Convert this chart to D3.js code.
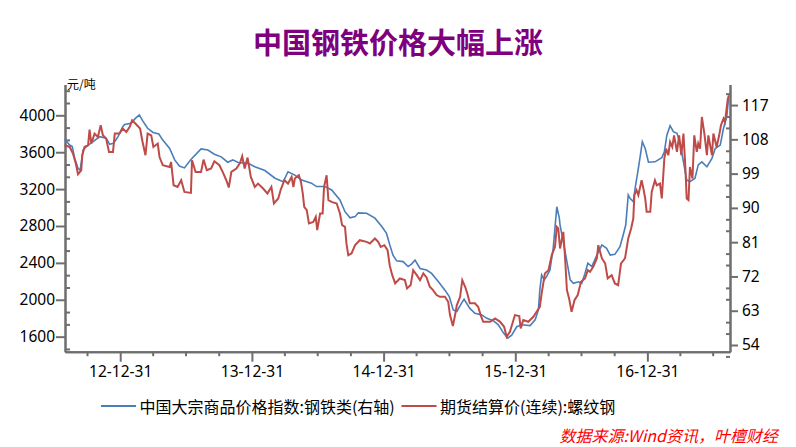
<!DOCTYPE html>
<html lang="zh">
<head>
  <meta charset="UTF-8">
  <title>中国钢铁价格大幅上涨</title>
  <style>
    body { margin: 0; background: #fff; }
    svg { display: block; }
    .eixo text { font-family: "Noto Sans", "Open Sans", sans-serif; font-size: 15.5px; fill: #000; }
    .eixo path, .eixo line { stroke: #6e6e6e; stroke-width: 2; }
  </style>
</head>
<body>
  <svg id="grafico" width="796" height="447"></svg>

  <script src="https://d3js.org/d3.v7.min.js"></script>
  <script>
    // Eixos: rótulos dos ticks
    const leftTicks = [1600, 2000, 2400, 2800, 3200, 3600, 4000];
    const rightTicks = [54, 63, 72, 81, 90, 99, 108, 117];
    const yearTicks = ["2012-12-31", "2013-12-31", "2014-12-31", "2015-12-31", "2016-12-31"];

    const seriesNames = ["中国大宗商品价格指数:钢铁类(右轴)", "期货结算价(连续):螺纹钢"];

    // 中国大宗商品价格指数:钢铁类 (eixo direito)
    const steelIndex = [
      ["2012-07-30",108.0],["2012-08-13",106.5],["2012-08-20",106.1],["2012-08-27",103.0],["2012-09-05",100.4],
      ["2012-09-11",99.9],["2012-09-19",105.2],["2012-09-28",106.1],["2012-10-17",107.4],["2012-11-04",108.7],
      ["2012-11-22",108.3],["2012-12-02",106.7],["2012-12-13",107.0],["2012-12-25",108.7],["2013-01-07",111.3],
      ["2013-01-12",111.9],["2013-01-30",112.2],["2013-02-11",113.5],["2013-02-22",114.4],["2013-03-03",112.9],
      ["2013-03-17",110.9],["2013-04-01",109.8],["2013-04-17",109.4],["2013-04-28",107.8],["2013-05-17",105.6],
      ["2013-05-31",102.6],["2013-06-13",101.0],["2013-06-27",100.5],["2013-07-15",102.7],["2013-08-12",105.5],
      ["2013-08-31",105.2],["2013-09-18",104.1],["2013-10-07",103.4],["2013-10-25",102.0],["2013-11-08",102.6],
      ["2013-11-23",101.9],["2013-12-21",101.7],["2014-01-08",100.8],["2014-02-05",99.8],["2014-03-05",97.8],
      ["2014-03-28",96.9],["2014-04-10",99.5],["2014-04-29",98.6],["2014-05-18",97.3],["2014-06-14",96.5],
      ["2014-06-28",95.6],["2014-07-21",95.6],["2014-08-09",94.7],["2014-09-01",92.1],["2014-09-15",89.0],
      ["2014-09-29",87.4],["2014-10-13",87.7],["2014-10-22",88.7],["2014-11-14",88.6],["2014-12-07",87.3],
      ["2014-12-26",85.1],["2015-01-08",83.3],["2015-01-17",80.3],["2015-01-26",77.6],["2015-02-05",76.1],
      ["2015-02-23",75.9],["2015-03-09",74.6],["2015-03-19",75.3],["2015-03-28",76.3],["2015-04-11",74.1],
      ["2015-04-29",73.7],["2015-05-13",72.8],["2015-06-01",70.6],["2015-06-19",68.4],["2015-07-01",66.7],
      ["2015-07-12",63.2],["2015-07-22",62.8],["2015-08-04",65.0],["2015-08-11",66.0],["2015-08-27",63.6],
      ["2015-09-10",62.3],["2015-09-29",61.9],["2015-10-13",61.0],["2015-10-31",60.4],["2015-11-14",59.3],
      ["2015-11-28",57.2],["2015-12-10",55.8],["2015-12-21",56.6],["2016-01-04",58.8],["2016-01-18",59.3],
      ["2016-02-10",59.1],["2016-02-24",60.6],["2016-03-04",63.2],["2016-03-08",68.5],["2016-03-13",72.4],
      ["2016-03-20",71.1],["2016-03-27",72.0],["2016-04-05",73.7],["2016-04-14",79.4],["2016-04-20",85.9],
      ["2016-04-24",90.3],["2016-05-01",87.3],["2016-05-03",85.5],["2016-05-12",81.1],["2016-05-22",75.9],
      ["2016-05-31",71.1],["2016-06-09",70.2],["2016-06-23",70.6],["2016-07-02",70.2],["2016-07-11",72.8],
      ["2016-07-19",75.5],["2016-07-30",74.6],["2016-08-13",77.6],["2016-08-27",80.3],["2016-09-09",79.4],
      ["2016-09-19",77.6],["2016-10-02",77.8],["2016-10-16",79.8],["2016-10-25",82.9],["2016-11-01",85.5],
      ["2016-11-08",93.4],["2016-11-13",92.5],["2016-11-22",91.6],["2016-11-27",95.1],["2016-12-06",100.4],
      ["2016-12-13",104.7],["2016-12-17",107.4],["2016-12-25",105.6],["2017-01-03",102.0],["2017-01-21",102.1],
      ["2017-02-09",103.2],["2017-02-16",104.7],["2017-02-23",109.1],["2017-03-04",111.6],["2017-03-13",110.0],
      ["2017-03-23",109.6],["2017-04-01",106.9],["2017-04-10",102.1],["2017-04-19",97.3],["2017-04-28",96.9],
      ["2017-05-12",97.8],["2017-05-21",101.3],["2017-05-31",102.1],["2017-06-14",100.8],["2017-06-28",103.0],
      ["2017-07-07",105.6],["2017-07-21",106.5],["2017-07-30",110.9],["2017-08-08",113.9],["2017-08-13",118.8]
    ];

    // 期货结算价(连续):螺纹钢, 元/吨 (eixo esquerdo)
    const rebarFutures = [
      ["2012-07-30",3675],["2012-08-13",3657],["2012-08-22",3585],["2012-08-30",3477],["2012-09-05",3361],
      ["2012-09-14",3404],["2012-09-17",3567],["2012-09-23",3657],["2012-10-03",3675],["2012-10-07",3845],
      ["2012-10-12",3694],["2012-10-21",3802],["2012-10-30",3765],["2012-11-07",3892],["2012-11-13",3783],
      ["2012-11-22",3748],["2012-11-30",3603],["2012-12-11",3603],["2012-12-16",3802],["2012-12-29",3802],
      ["2013-01-07",3856],["2013-01-17",3819],["2013-01-26",3873],["2013-02-02",3946],["2013-02-13",3903],
      ["2013-02-24",3856],["2013-03-03",3711],["2013-03-11",3567],["2013-03-17",3802],["2013-03-27",3783],
      ["2013-04-02",3657],["2013-04-14",3694],["2013-04-19",3548],["2013-04-28",3459],["2013-05-17",3440],
      ["2013-05-21",3494],["2013-05-28",3242],["2013-06-08",3223],["2013-06-18",3296],["2013-06-27",3169],
      ["2013-07-15",3159],["2013-07-18",3513],["2013-07-28",3386],["2013-08-12",3386],["2013-08-19",3520],
      ["2013-08-28",3404],["2013-09-09",3423],["2013-09-18",3502],["2013-10-02",3459],["2013-10-11",3386],
      ["2013-10-21",3296],["2013-10-28",3217],["2013-11-04",3386],["2013-11-18",3423],["2013-11-28",3483],
      ["2013-12-04",3556],["2013-12-11",3423],["2013-12-19",3542],["2013-12-28",3332],["2014-01-08",3223],
      ["2014-01-17",3260],["2014-01-31",3206],["2014-02-12",3152],["2014-02-23",3223],["2014-03-02",3044],
      ["2014-03-14",3098],["2014-03-21",3195],["2014-03-31",3296],["2014-04-10",3260],["2014-04-20",3332],
      ["2014-04-25",3223],["2014-04-29",3314],["2014-05-10",3350],["2014-05-16",3278],["2014-05-21",3152],
      ["2014-05-25",3007],["2014-06-01",2971],["2014-06-07",2827],["2014-06-19",2844],["2014-06-26",2899],
      ["2014-06-30",2755],["2014-07-08",2935],["2014-07-15",2935],["2014-07-19",3223],["2014-07-26",3350],
      ["2014-07-31",3080],["2014-08-09",3061],["2014-08-23",3044],["2014-09-01",2935],["2014-09-07",2809],
      ["2014-09-15",2790],["2014-09-19",2611],["2014-09-24",2484],["2014-10-03",2502],["2014-10-13",2592],
      ["2014-10-26",2646],["2014-11-14",2628],["2014-11-23",2611],["2014-12-07",2665],["2014-12-16",2628],
      ["2014-12-23",2574],["2015-01-02",2592],["2015-01-11",2538],["2015-01-17",2370],["2015-01-24",2267],
      ["2015-02-01",2177],["2015-02-14",2231],["2015-02-28",2213],["2015-03-06",2123],["2015-03-16",2159],
      ["2015-03-23",2321],["2015-04-02",2267],["2015-04-11",2213],["2015-04-20",2286],["2015-04-29",2242],
      ["2015-05-08",2141],["2015-05-17",2105],["2015-05-27",2051],["2015-06-05",2032],["2015-06-19",2032],
      ["2015-06-28",1978],["2015-07-03",1834],["2015-07-11",1715],["2015-07-17",1834],["2015-07-22",1942],
      ["2015-07-31",2032],["2015-08-06",2213],["2015-08-14",2141],["2015-08-20",2069],["2015-08-27",1961],
      ["2015-09-10",1961],["2015-09-19",1924],["2015-09-26",1834],["2015-10-03",1761],["2015-10-22",1761],
      ["2015-11-05",1798],["2015-11-19",1761],["2015-11-30",1707],["2015-12-07",1599],["2015-12-16",1653],
      ["2015-12-30",1834],["2016-01-11",1823],["2016-01-15",1690],["2016-01-22",1780],["2016-02-05",1761],
      ["2016-02-19",1816],["2016-02-28",1870],["2016-03-08",1924],["2016-03-13",2069],["2016-03-22",2286],
      ["2016-04-01",2321],["2016-04-10",2484],["2016-04-19",2574],["2016-04-24",2790],["2016-04-28",2773],
      ["2016-05-03",2556],["2016-05-12",2736],["2016-05-17",2448],["2016-05-22",2105],["2016-05-28",2015],
      ["2016-06-04",1870],["2016-06-12",1996],["2016-06-21",2051],["2016-06-30",2195],["2016-07-11",2231],
      ["2016-07-19",2321],["2016-07-25",2303],["2016-08-03",2357],["2016-08-13",2448],["2016-08-17",2592],
      ["2016-08-27",2448],["2016-09-05",2394],["2016-09-12",2231],["2016-09-23",2267],["2016-10-02",2177],
      ["2016-10-11",2159],["2016-10-19",2394],["2016-10-30",2448],["2016-11-08",2665],["2016-11-16",2773],
      ["2016-11-22",2881],["2016-11-25",3134],["2016-12-01",3188],["2016-12-06",3134],["2016-12-15",3296],
      ["2016-12-20",3206],["2016-12-25",3098],["2016-12-29",2953],["2017-01-08",2953],["2017-01-12",3169],
      ["2017-01-21",3296],["2017-01-26",3242],["2017-02-04",3260],["2017-02-09",3098],["2017-02-16",3531],
      ["2017-02-21",3639],["2017-02-27",3567],["2017-03-04",3711],["2017-03-10",3657],["2017-03-15",3783],
      ["2017-03-23",3603],["2017-03-29",3783],["2017-04-04",3567],["2017-04-10",3802],["2017-04-15",3459],
      ["2017-04-19",3098],["2017-04-24",3080],["2017-04-28",3440],["2017-05-05",3314],["2017-05-10",3783],
      ["2017-05-17",3603],["2017-05-21",3694],["2017-05-26",3639],["2017-05-31",3982],["2017-06-07",3802],
      ["2017-06-14",3567],["2017-06-18",3783],["2017-06-28",3567],["2017-07-02",3802],["2017-07-11",3657],
      ["2017-07-18",3783],["2017-07-23",3892],["2017-07-30",3964],["2017-08-03",3927],["2017-08-11",4181],
      ["2017-08-14",4217]
    ];

    const parseDate = d3.timeParse("%Y-%m-%d");
    const corAzul = "#4a7ebb";
    const corVermelha = "#be4b48";

    const svg = d3.select("#grafico");

    // Área do gráfico
    const esquerda = 65, direita = 730, topo = 84.5, base = 351.7;

    const x = d3.scaleTime()
      .domain([parseDate("2012-07-31"), parseDate("2017-08-17")])
      .range([esquerda, direita]);

    const yLeft = d3.scaleLinear().domain([1437, 4334]).range([base, topo]);
    const yRight = d3.scaleLinear().domain([52.24, 122.4]).range([base, topo]);

    // Título
    svg.append("text")
      .attr("x", 398)
      .attr("y", 41)
      .attr("text-anchor", "middle")
      .attr("dominant-baseline", "central")
      .style("font-family", "'Noto Sans CJK SC', sans-serif")
      .style("font-weight", "bold")
      .style("font-size", "29px")
      .style("fill", "#7f007f")
      .text("中国钢铁价格大幅上涨");

    // Unidade do eixo esquerdo
    svg.append("text")
      .attr("x", 67)
      .attr("y", 83)
      .attr("dominant-baseline", "central")
      .style("font-family", "'Noto Sans CJK SC', sans-serif")
      .style("font-size", "12px")
      .text("元/吨");

    // Ticks menores (para dentro)
    const minorLeft = d3.range(1600 - 400 / 3, 4300, 400 / 3).filter(v => Math.abs(v / 400 - Math.round(v / 400)) > 0.01);
    const minorRight = d3.range(54 - 3, 122, 3).filter(v => (v - 54) % 9 !== 0);
    const quarterTicks = d3.timeMonth.range(parseDate("2012-08-01"), parseDate("2017-08-17"), 1)
      .filter(d => d.getMonth() % 3 === 0)
      .map(d => d3.timeDay.offset(d, -1))
      .filter(d => d.getMonth() !== 11);

    svg.append("g").attr("class", "eixo")
      .attr("transform", `translate(${esquerda},0)`)
      .call(d3.axisRight(yLeft).tickValues(minorLeft).tickSize(5).tickSizeOuter(0).tickFormat(""));

    svg.append("g").attr("class", "eixo")
      .attr("transform", `translate(${direita},0)`)
      .call(d3.axisLeft(yRight).tickValues(minorRight).tickSize(4).tickSizeOuter(0).tickFormat(""));

    svg.append("g").attr("class", "eixo")
      .attr("transform", `translate(0,${base})`)
      .call(d3.axisBottom(x).tickValues(quarterTicks).tickSize(4.5).tickSizeOuter(0).tickFormat(""));

    // Eixos principais
    svg.append("g").attr("class", "eixo")
      .attr("transform", `translate(${esquerda},0)`)
      .call(d3.axisLeft(yLeft).tickValues(leftTicks).tickSize(9).tickPadding(1).tickSizeOuter(0)
        .tickFormat(d3.format("d")));

    svg.append("g").attr("class", "eixo")
      .attr("transform", `translate(${direita},0)`)
      .call(d3.axisRight(yRight).tickValues(rightTicks).tickSize(8).tickPadding(4).tickSizeOuter(0)
        .tickFormat(d3.format("d")));

    svg.append("g").attr("class", "eixo")
      .attr("transform", `translate(0,${base})`)
      .call(d3.axisBottom(x).tickValues(yearTicks.map(parseDate)).tickSize(10).tickPadding(4)
        .tickSizeOuter(0).tickFormat(d3.timeFormat("%y-%m-%d")));

    // Linhas
    const linhaDireita = d3.line()
      .x(d => x(parseDate(d[0])))
      .y(d => yRight(d[1]));

    const linhaEsquerda = d3.line()
      .x(d => x(parseDate(d[0])))
      .y(d => yLeft(d[1]));

    svg.append("path")
      .datum(steelIndex)
      .attr("d", linhaDireita)
      .attr("fill", "none")
      .attr("stroke", corAzul)
      .attr("stroke-width", 1.6);

    svg.append("path")
      .datum(rebarFutures)
      .attr("d", linhaEsquerda)
      .attr("fill", "none")
      .attr("stroke", corVermelha)
      .attr("stroke-width", 2);

    // Legenda
    const legenda = [
      { nome: seriesNames[0], cor: corAzul, x: 101 },
      { nome: seriesNames[1], cor: corVermelha, x: 401.5 }
    ];

    const itens = svg.selectAll(".legenda")
      .data(legenda)
      .enter().append("g")
      .attr("class", "legenda")
      .attr("transform", d => `translate(${d.x},406)`);

    itens.append("line")
      .attr("x1", 0).attr("x2", 35)
      .attr("stroke", d => d.cor)
      .attr("stroke-width", 2);

    itens.append("text")
      .attr("x", 38.5)
      .attr("dominant-baseline", "central")
      .style("font-family", "'Noto Sans CJK SC', sans-serif")
      .style("font-size", "16px")
      .text(d => d.nome);

    // Fonte
    svg.append("text")
      .attr("x", 778)
      .attr("y", 435)
      .attr("text-anchor", "end")
      .attr("dominant-baseline", "central")
      .style("font-family", "'Noto Sans CJK SC', sans-serif")
      .style("font-size", "16px")
      .style("font-style", "italic")
      .style("fill", "#ff0000")
      .text("数据来源:Wind资讯，叶檀财经");
  </script>
</body>
</html>
